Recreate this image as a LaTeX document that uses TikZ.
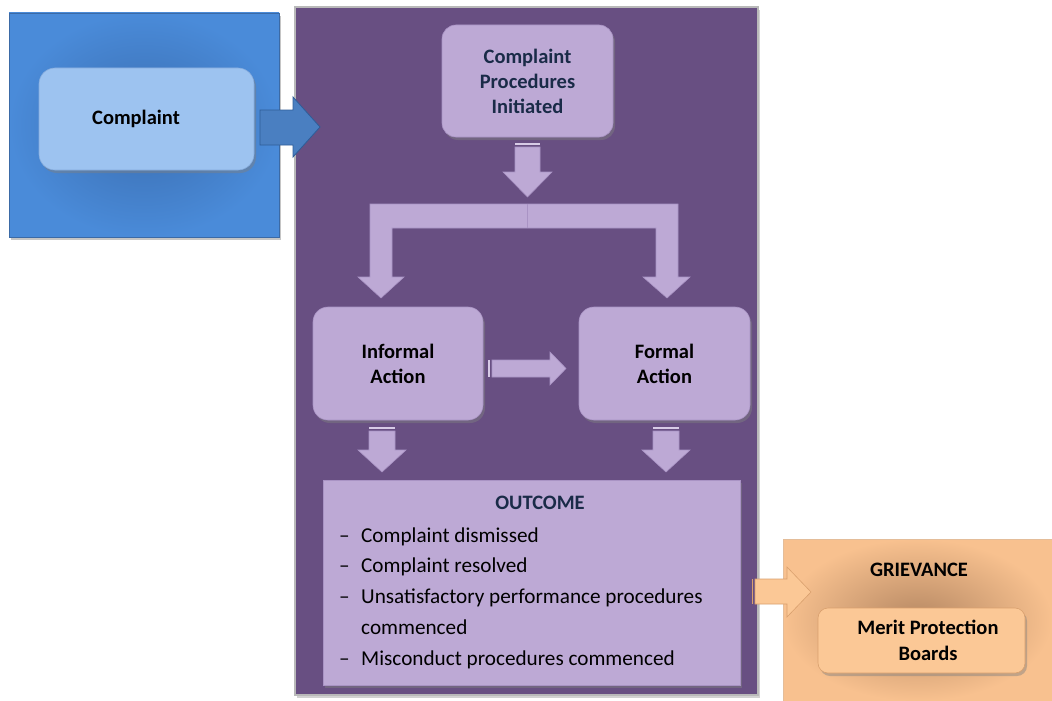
\documentclass[tikz,border=0pt]{standalone}
\usepackage{fontspec}
\setmainfont{Carlito}
\usetikzlibrary{shadows,calc}
\definecolor{blueout}{HTML}{4A8BD9}
\definecolor{bluein}{HTML}{3A6DB0}
\definecolor{blueedge}{HTML}{3B6AA6}
\definecolor{complfill}{HTML}{9DC3F0}
\definecolor{compledge}{HTML}{86ACDD}
\definecolor{barrow}{HTML}{4A7FC1}
\definecolor{barrowedge}{HTML}{2E5D98}
\definecolor{purp}{HTML}{684F82}
\definecolor{lavfill}{HTML}{BDA9D5}
\definecolor{lavedge}{HTML}{A993C4}
\definecolor{navy}{HTML}{1A2B48}
\definecolor{orout}{HTML}{F8C18F}
\definecolor{orin}{HTML}{B68863}
\definecolor{orfill}{HTML}{FBC896}
\definecolor{oredge}{HTML}{D9A06E}
\begin{document}
\begin{tikzpicture}[x=1pt,y=-1pt,
  font=\fontsize{20.5}{25}\selectfont,
  shad/.style={drop shadow={shadow xshift=2pt,shadow yshift=-3pt,opacity=0.45}},
  lavbox/.style={fill=lavfill, draw=lavedge, line width=0.6pt, shad, align=center, font=\fontsize{20.5}{25}\selectfont\bfseries},
  lavarrow/.style={fill=lavfill, draw=lavedge, line width=0.6pt},
  stripe/.style={draw=lavfill!60!white, line width=1.2pt}]
\useasboundingbox (0,0) rectangle (1052,701);
\fill[white] (0,0) rectangle (1052,701);

% blue panel
\node[draw=blueedge, line width=0.8pt, inner color=bluein, outer color=blueout,
      minimum width=270pt, minimum height=224pt, shad] (bluepanel) at (144,125) {};
\node[rounded corners=16pt, fill=complfill, draw=compledge, line width=0.6pt,
      minimum width=215pt, minimum height=102pt, shad, font=\fontsize{20.5}{25}\selectfont\bfseries]
      (complaint) at (146.5,119) {\hspace*{-21pt}Complaint};

% purple panel
\node[fill=purp, draw=gray!55, line width=1.2pt, minimum width=463pt, minimum height=688pt,
      drop shadow={shadow xshift=2pt,shadow yshift=-3pt,opacity=0.35}] (purple) at (526.5,351) {};

% blue arrow
\draw[fill=barrow, draw=barrowedge, line width=0.8pt]
  (260,110) -- (293,110) -- (293,97) -- (320,127) -- (293,157) -- (293,145) -- (260,145) -- cycle;

% top box
\node[lavbox, rounded corners=14pt, minimum width=171pt, minimum height=112pt, text=navy]
  (cpi) at (527.5,81) {Complaint\\Procedures\\Initiated};

% down arrow 1
\draw[lavarrow] (515,147) -- (540,147) -- (540,172) -- (552,172) -- (527.5,197) -- (503,172) -- (515,172) -- cycle;
\draw[stripe] (515,144) -- (540,144);

% branch arrow
\draw[lavarrow] (370,204) -- (678,204) -- (678,277) -- (690,277) -- (667,298) -- (643,277) -- (656,277)
  -- (656,228) -- (392,228) -- (392,277) -- (404,277) -- (381,298) -- (358,277) -- (370,277) -- cycle;
\draw[draw=lavedge, line width=0.8pt] (527,204) -- (527,228);

% action boxes
\node[lavbox, rounded corners=15pt, minimum width=170pt, minimum height=113pt, text=black]
  (informal) at (398,363.5) {Informal\\Action};
\node[lavbox, rounded corners=15pt, minimum width=171pt, minimum height=113pt, text=black]
  (formal) at (664.5,363.5) {Formal\\Action};

% right arrow
\draw[lavarrow] (492,360) -- (550,360) -- (550,352) -- (566,368.5) -- (550,385) -- (550,377) -- (492,377) -- cycle;
\draw[stripe] (489,360) -- (489,377);

% down arrows to outcome
\draw[lavarrow] (369,431) -- (395,431) -- (395,450) -- (406,450) -- (382,472) -- (358,450) -- (369,450) -- cycle;
\draw[stripe] (369,428) -- (395,428);
\draw[lavarrow] (653,431) -- (679,431) -- (679,450) -- (690,450) -- (666,472) -- (642,450) -- (653,450) -- cycle;
\draw[stripe] (653,428) -- (679,428);

% outcome box
\node[fill=lavfill, draw=lavedge, line width=0.6pt, shad, minimum width=417pt, minimum height=205pt]
  (outcome) at (531.5,582.5) {};
\node[font=\fontsize{20.5}{25}\selectfont\bfseries, text=navy, inner sep=0pt] (outtitle) at (540,503) {OUTCOME};
\node[anchor=base west, inner sep=0pt, font=\fontsize{21.2}{30.8}\selectfont] (outlist) at (339,542)
 {\begin{tabular}[t]{@{}p{22pt}@{}l@{}}
  \textendash & Complaint dismissed\\
  \textendash & Complaint resolved\\
  \textendash & Unsatisfactory performance procedures\\
              & commenced\\
  \textendash & Misconduct procedures commenced
  \end{tabular}};

% orange panel
\node[draw=oredge!70, line width=0.6pt, inner color=orin, outer color=orout,
      minimum width=269pt, minimum height=162pt, shad] (orpanel) at (917.5,620) {};
\node[font=\fontsize{20.5}{25}\selectfont\bfseries, inner sep=0pt] (griev) at (919,570) {GRIEVANCE};
\node[rounded corners=10pt, fill=orfill, draw=oredge, line width=0.6pt, shad, align=center,
      minimum width=207pt, minimum height=65pt, font=\fontsize{20.5}{26}\selectfont\bfseries]
  (merit) at (921.5,640.5) {\hspace*{13pt}Merit Protection\\\hspace*{13pt}Boards};

% orange arrow
\draw[fill=orfill, draw=oredge, line width=0.6pt]
  (755,579) -- (787,579) -- (787,567) -- (811,592) -- (787,617) -- (787,604) -- (755,604) -- cycle;
\draw[draw=oredge, line width=0.8pt] (752,579) -- (752,604);
\end{tikzpicture}
\end{document}
